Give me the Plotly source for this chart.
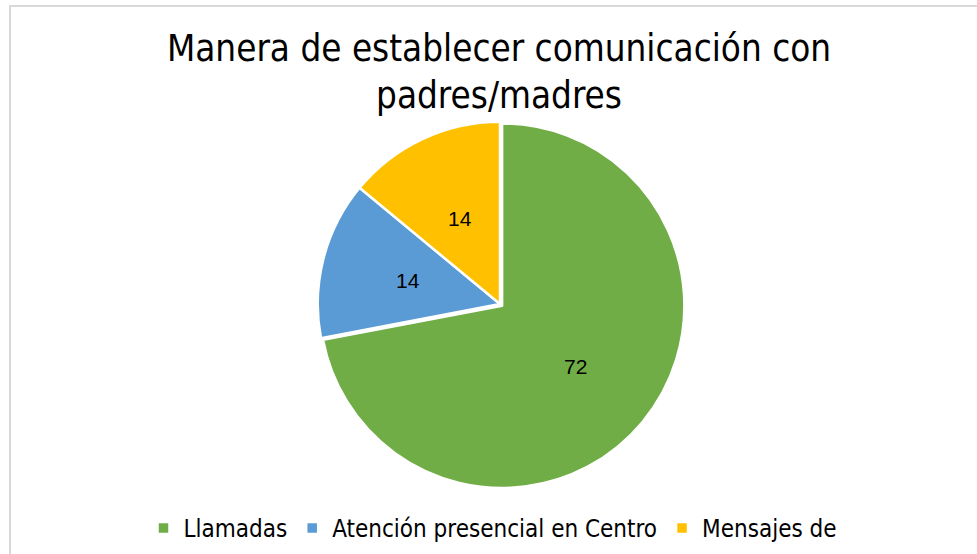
import math
import plotly.graph_objects as go

labels = ["Llamadas", "Atención presencial en Centro", "Mensajes de"]
values = [72, 14, 14]
colors = ["#70AD47", "#5B9BD5", "#FFC000"]
pulls = [0.015, 0, 0]
title_text = "Manera de establecer comunicación con<br>padres/madres"

W, H = 977, 554
ML, MR, MT, MB = 0, 0, 119, 65
plot_w = W - ML - MR
plot_h = H - MT - MB
TXT_FONT = "DejaVu Sans Condensed, DejaVu Sans, sans-serif"
LBL_FONT = "Liberation Sans, Arial, sans-serif"

def px_x(px):
    return (px - ML) / plot_w

def px_y(py):
    return (H - MB - py) / plot_h

dom_x = [px_x(300), px_x(700)]
dom_y = [0, 1]

fig = go.Figure()
fig.add_trace(go.Pie(
    labels=labels,
    values=values,
    sort=False,
    direction="clockwise",
    rotation=0,
    pull=pulls,
    marker=dict(colors=colors, line=dict(color="white", width=2.5)),
    textinfo="none",
    domain=dict(x=dom_x, y=dom_y),
    hoverinfo="label+value",
))

# data labels placed at about half radius along each slice's mid-angle (Excel style)
cx = (dom_x[0] + dom_x[1]) / 2
cy = (dom_y[0] + dom_y[1]) / 2
r_px = min((dom_x[1] - dom_x[0]) * plot_w, (dom_y[1] - dom_y[0]) * plot_h) / 2 / (1 + max(pulls))
total = sum(values)
annotations = []
cum = 0
for v, p in zip(values, pulls):
    mid = (cum + v / 2) / total * 2 * math.pi
    cum += v
    d = r_px * (0.52 + p)
    annotations.append(dict(
        x=cx + d * math.sin(mid) / plot_w,
        y=cy + d * math.cos(mid) / plot_h,
        xref="paper", yref="paper",
        text=str(v), showarrow=False,
        xanchor="center", yanchor="middle",
        font=dict(family=LBL_FONT, size=21, color="black"),
    ))

fig.update_layout(
    width=W, height=H,
    margin=dict(l=ML, r=MR, t=MT, b=MB, pad=0),
    paper_bgcolor="white",
    plot_bgcolor="white",
    title=dict(
        text=title_text,
        x=499 / W, xanchor="center", xref="container",
        y=1 - 61 / H, yanchor="top", yref="container",
        font=dict(family=TXT_FONT, size=36.5, color="black"),
    ),
    showlegend=True,
    legend=dict(
        orientation="h",
        x=493 / W, xanchor="center", xref="container",
        y=1 - 506 / H, yanchor="top", yref="container",
        font=dict(family=TXT_FONT, size=24, color="black"),
        bgcolor="rgba(0,0,0,0)",
    ),
    annotations=annotations,
    shapes=[dict(
        type="rect", xref="paper", yref="paper",
        x0=px_x(10), x1=px_x(995), y0=px_y(6), y1=px_y(620),
        line=dict(color="#D9D9D9", width=2), fillcolor="rgba(0,0,0,0)",
        layer="below",
    )],
)

fig.write_html("out.html", config={"displayModeBar": False},
               post_script="document.body.style.margin='0';")
